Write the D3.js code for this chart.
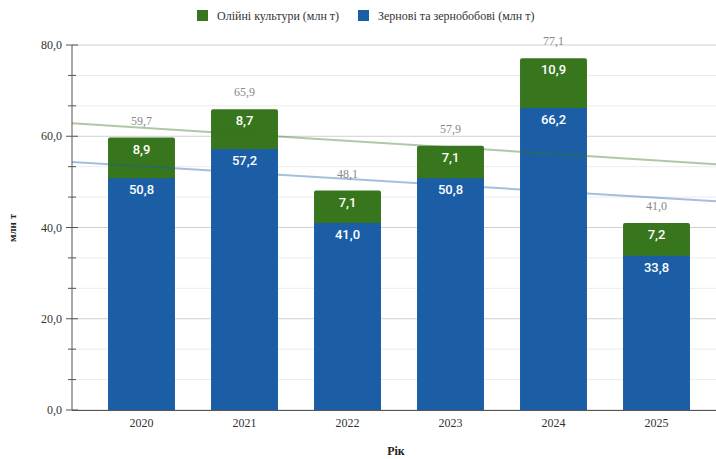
<!DOCTYPE html>
<html><head><meta charset="utf-8">
<script src="https://cdn.jsdelivr.net/npm/d3@7"></script>
<style>body{margin:0;background:#fff}svg{display:block}</style>
</head><body><svg id="c" width="716" height="459"></svg>
<script>
const years = ["2020","2021","2022","2023","2024","2025"];
const grain = [50.8,57.2,41.0,50.8,66.2,33.8];
const oil = [8.9,8.7,7.1,7.1,10.9,7.2];
const totals = [59.7,65.9,48.1,57.9,77.1,41.0];
const yTicks = [0,20,40,60,80];
const seriesNames = ["Олійні культури (млн т)","Зернові та зернобобові (млн т)"];
const colors = {oil:"#38761d", grain:"#1b5ea6"};

const svg = d3.select("#c");
const serif = "'Liberation Serif','Times New Roman',serif";
const x = d3.scaleBand().domain(years).range([90,708]).paddingInner(0.35).paddingOuter(0.175);
const y = d3.scaleLinear().domain([0,80]).range([410,45]);
const left = 72, right = 716;
const isMajor = d=>Math.abs(d/20-Math.round(d/20))<1e-6;

// gridlines
const minor = d3.range(0,80.01,20/3);
svg.append("g").selectAll("line").data(minor).join("line")
  .attr("x1",left).attr("x2",right).attr("y1",d=>y(d)).attr("y2",d=>y(d))
  .attr("stroke",d=>isMajor(d)?"#d0d0d0":"#ebebeb").attr("stroke-width",1);

// y axis
const ya = svg.append("g");
ya.append("line").attr("x1",left).attr("x2",left).attr("y1",y(80)).attr("y2",y(0)).attr("stroke","#555").attr("stroke-width",1);
ya.selectAll(".mt").data(minor).join("line").attr("x1",d=>isMajor(d)?66:68).attr("x2",d=>isMajor(d)?78:76)
  .attr("y1",d=>y(d)).attr("y2",d=>y(d)).attr("stroke","#555");
ya.selectAll("text").data(yTicks).join("text").attr("x",62).attr("y",d=>y(d)+4).attr("text-anchor","end")
  .attr("font-family",serif).attr("font-size",12).attr("fill","#333").text(d=>d3.format(".1f")(d).replace(".",","));
svg.append("text").attr("transform","translate(16,228) rotate(-90)").attr("text-anchor","middle")
  .attr("font-family",serif).attr("font-size",11).attr("font-weight","bold").attr("fill","#222").text("млн т");

// bars
const bw = x.bandwidth();
const g = svg.append("g");
years.forEach((yr,i)=>{
  const x0 = x(yr);
  g.append("rect").attr("x",x0).attr("width",bw).attr("y",y(totals[i])).attr("height",y(grain[i])-y(totals[i])+2)
    .attr("rx",2).attr("fill",colors.oil);
  g.append("rect").attr("x",x0).attr("width",bw).attr("y",y(grain[i])).attr("height",y(0)-y(grain[i]))
    .attr("fill",colors.grain);
});

// x axis
svg.append("line").attr("x1",left).attr("x2",right).attr("y1",410.5).attr("y2",410.5).attr("stroke","#555");
svg.append("g").selectAll("text").data(years).join("text").attr("x",d=>x(d)+bw/2).attr("y",427).attr("text-anchor","middle")
  .attr("font-family",serif).attr("font-size",12).attr("fill","#333").text(d=>d);
svg.append("text").attr("x",396).attr("y",455).attr("text-anchor","middle").attr("font-family",serif).attr("font-size",12)
  .attr("font-weight","bold").attr("fill","#222").text("Рік");

// trend lines (least squares over data)
function trend(vals){
  const n=vals.length, xs=d3.range(n), mx=d3.mean(xs), my=d3.mean(vals);
  const s=d3.sum(xs,(xi,k)=>(xi-mx)*(vals[k]-my))/d3.sum(xs,xi=>(xi-mx)**2);
  return xi=>my+s*(xi-mx);
}
const step = x.step();
const c0 = x(years[0])+bw/2;
const toIdx = px=>(px-c0)/step;
[[totals,colors.oil],[grain,colors.grain]].forEach(([vals,col])=>{
  const f=trend(vals);
  svg.append("line").attr("x1",left).attr("x2",right).attr("y1",y(f(toIdx(left)))).attr("y2",y(f(toIdx(right))))
    .attr("stroke",col).attr("stroke-opacity",0.4).attr("stroke-width",2);
});

// labels
const fmt = v=>d3.format(".1f")(v).replace(".",",");
years.forEach((yr,i)=>{
  const cx=x(yr)+bw/2;
  svg.append("text").attr("x",cx).attr("y",y(totals[i])+16).attr("text-anchor","middle").attr("font-family","Roboto,sans-serif")
    .attr("font-size",13).attr("font-weight",500).attr("fill","#fff").text(fmt(oil[i]));
  svg.append("text").attr("x",cx).attr("y",y(grain[i])+16).attr("text-anchor","middle").attr("font-family","Roboto,sans-serif")
    .attr("font-size",13).attr("font-weight",500).attr("fill","#fff").text(fmt(grain[i]));
  svg.append("text").attr("x",cx).attr("y",y(totals[i])-13).attr("text-anchor","middle").attr("font-family",serif)
    .attr("font-size",12).attr("fill","#888").text(fmt(totals[i]));
});

// legend
const leg = [{n:seriesNames[0],c:colors.oil,x:197},{n:seriesNames[1],c:colors.grain,x:358}];
leg.forEach(l=>{
  svg.append("rect").attr("x",l.x).attr("y",10).attr("width",11).attr("height",11).attr("fill",l.c);
  svg.append("text").attr("x",l.x+20).attr("y",20).attr("font-family",serif).attr("font-size",12).attr("fill","#333").text(l.n);
});
</script></body></html>
